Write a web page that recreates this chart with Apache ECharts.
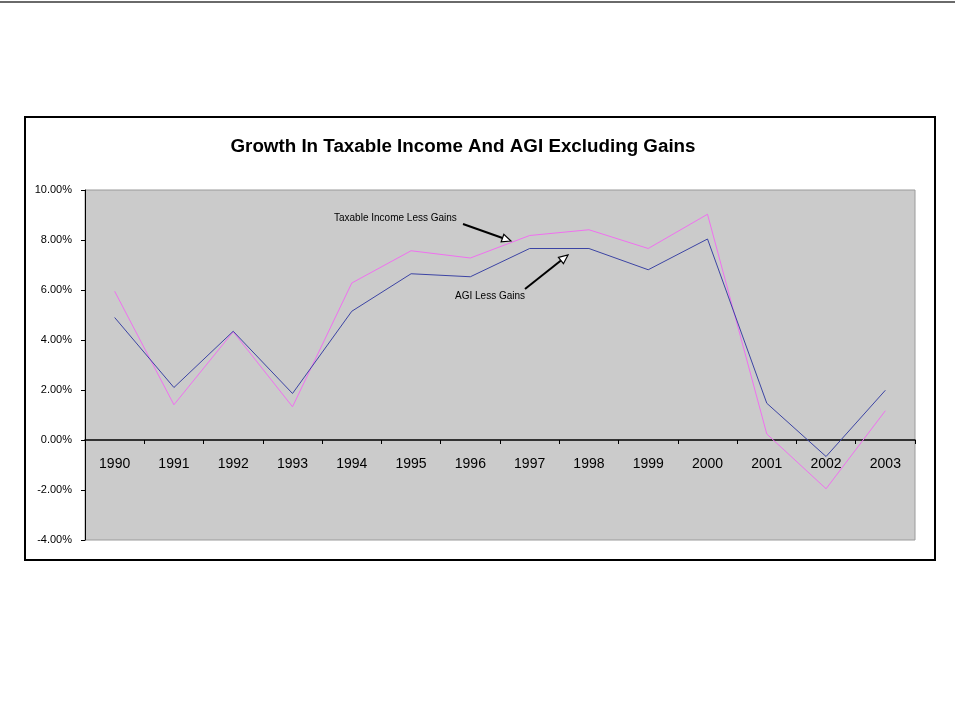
<!DOCTYPE html>
<html>
<head>
<meta charset="utf-8">
<script src="https://cdn.jsdelivr.net/npm/echarts@6/dist/echarts.min.js"></script>
<style>html,body{margin:0;padding:0;background:#fff;}#c{width:955px;height:719px;}</style>
</head>
<body>
<div id="c"></div>
<script>
const years = ['1990','1991','1992','1993','1994','1995','1996','1997','1998','1999','2000','2001','2002','2003'];
const agiLessGains = [4.90, 2.10, 4.35, 1.86, 5.15, 6.65, 6.53, 7.66, 7.66, 6.81, 8.04, 1.47, -0.66, 1.99];
const taxableLessGains = [5.95, 1.41, 4.33, 1.33, 6.28, 7.57, 7.28, 8.18, 8.41, 7.66, 9.03, 0.24, -1.95, 1.17];
const yTicks = { min: -4, max: 10, interval: 2 };
const titleText = 'Growth In Taxable Income And AGI Excluding Gains';

const gridTop = 190, gridBottom = 179, chartH = 719;
const plotH = chartH - gridTop - gridBottom;
const zeroOffset = -plotH * (0 - yTicks.min) / (yTicks.max - yTicks.min);

function arrow(x1, y1, x2, y2) {
  const ang = Math.atan2(y2 - y1, x2 - x1);
  const L = 9, W = 4;
  const bx = x2 - L * Math.cos(ang), by = y2 - L * Math.sin(ang);
  const px = -Math.sin(ang) * W, py = Math.cos(ang) * W;
  return [
    { type: 'line', shape: { x1: x1, y1: y1, x2: bx, y2: by }, style: { stroke: '#000', lineWidth: 2 } },
    { type: 'polygon', shape: { points: [[x2, y2], [bx + px, by + py], [bx - px, by - py]] }, style: { fill: '#fff', stroke: '#000', lineWidth: 1.2 } }
  ];
}

const chart = echarts.init(document.getElementById('c'));
chart.setOption({
  animation: false,
  backgroundColor: '#fff',
  title: {
    text: titleText, left: 458, top: 132, textAlign: 'center',
    textStyle: { fontFamily: 'Liberation Sans, Arial', fontSize: 18.8, fontWeight: 'bold', color: '#000' }
  },
  grid: { left: 85, right: 40, top: gridTop, bottom: gridBottom, show: true, backgroundColor: '#cbcbcb', borderColor: '#9a9a9a', borderWidth: 1 },
  xAxis: {
    type: 'category', data: years, boundaryGap: true,
    offset: zeroOffset,
    axisLine: { onZero: false, lineStyle: { color: '#000', width: 1.5 } },
    axisTick: { show: true, length: 4, lineStyle: { color: '#000' } },
    axisLabel: { margin: 17, fontFamily: 'Liberation Sans, Arial', fontSize: 14, color: '#000' },
    splitLine: { show: false }
  },
  yAxis: {
    type: 'value', min: yTicks.min, max: yTicks.max, interval: yTicks.interval,
    axisLine: { show: true, lineStyle: { color: '#000', width: 1 } },
    axisTick: { show: true, length: 4, lineStyle: { color: '#000' } },
    axisLabel: { margin: 13, fontFamily: 'Liberation Sans, Arial', fontSize: 11, color: '#000', formatter: v => v.toFixed(2) + '%' },
    splitLine: { show: false }
  },
  series: [
    { name: 'AGI Less Gains', type: 'line', data: agiLessGains, symbol: 'none', lineStyle: { color: '#3c44a4', width: 1 }, z: 3 },
    { name: 'Taxable Income Less Gains', type: 'line', data: taxableLessGains, symbol: 'none', lineStyle: { color: '#f070f0', width: 1 }, z: 2 }
  ],
  graphic: [
    { type: 'rect', shape: { x: 0, y: 1, width: 955, height: 2 }, style: { fill: '#6a6a6a' } },
    { type: 'rect', shape: { x: 25, y: 117, width: 910, height: 443 }, style: { fill: 'none', stroke: '#000', lineWidth: 2 } },
    { type: 'text', x: 334, y: 213, style: { text: 'Taxable Income Less Gains', font: '10px "Liberation Sans", Arial', fill: '#000' } },
    { type: 'text', x: 455, y: 291, style: { text: 'AGI Less Gains', font: '10px "Liberation Sans", Arial', fill: '#000' } },
    ...arrow(463, 224, 511, 241),
    ...arrow(525, 289, 568, 255)
  ]
});
</script>
</body>
</html>
